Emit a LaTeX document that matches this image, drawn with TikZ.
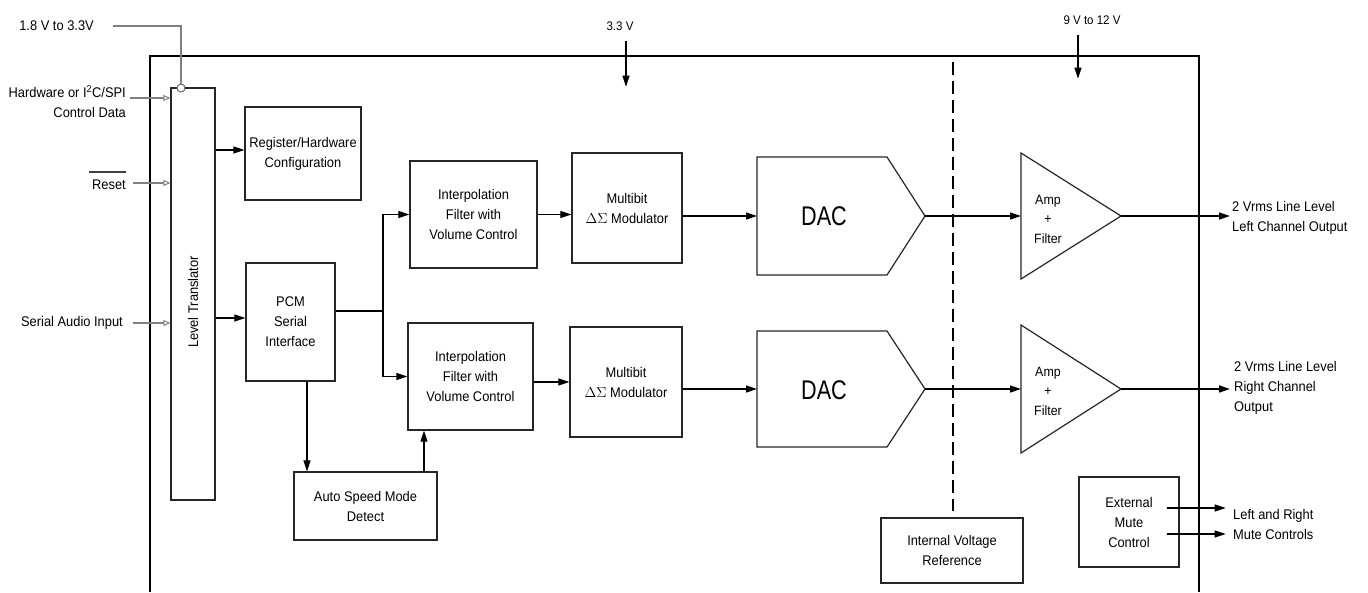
\documentclass[tikz,border=0pt]{standalone}
\usepackage{fontspec}
\setmainfont{Liberation Sans}[FakeStretch=0.92]
\newfontfamily\dacfont{Liberation Sans}[FakeStretch=0.8]
\usetikzlibrary{arrows.meta,calc}
\begin{document}
\begin{tikzpicture}[x=1pt,y=-1pt,
  font=\fontsize{14}{20}\selectfont,
  box/.style={draw=black!85, line width=1.3pt, inner sep=0pt, align=center},
  lbl/.style={inner sep=0pt, align=center},
  arr/.style={line width=1.2pt, -{Triangle[length=11pt,width=7pt]}},
  plainline/.style={line width=1.2pt},
  gline/.style={draw=gray, line width=1.7pt},
  garr/.style={draw=gray, line width=1.7pt, -{Triangle[open,length=7pt,width=6pt,line width=1pt]}},
  blockshape/.style={draw=black!85, line width=1.2pt},
  outerline/.style={line width=2.4pt},
  dashline/.style={line width=1.4pt, dash pattern=on 13pt off 6pt},
  daclabel/.style={inner sep=0pt, font=\dacfont\fontsize{27}{30}\selectfont}
]
\useasboundingbox (0,0) rectangle (1368,592);

% outer chip boundary
\draw[outerline] (150,592) -- (150,56) -- (1199,56) -- (1199,592);

% level translator
\node[box, minimum width=44pt, minimum height=412pt] (lt) at (193,294) {};
\node[lbl, rotate=90] (ltl) at (193,302) {Level Translator};
\node[circle, draw=gray!80!black, fill=white, line width=1pt, minimum size=8pt, inner sep=0pt] (vc) at (181,88) {};

% blocks
\node[box, minimum width=116pt, minimum height=93pt] (reg) at (303,153.5) {Register/Hardware\\Configuration};
\node[box, minimum width=89pt, minimum height=118pt] (pcm) at (290.5,322) {PCM\\Serial\\Interface};
\node[box, minimum width=127pt, minimum height=107pt] (if1) at (473.5,214.5) {Interpolation\\Filter with\\Volume Control};
\node[box, minimum width=125pt, minimum height=107pt] (if2) at (470.5,376.5) {Interpolation\\Filter with\\Volume Control};
\node[box, minimum width=110pt, minimum height=110pt] (mb1) at (627,208) {Multibit\\$\Delta\Sigma$ Modulator};
\node[box, minimum width=112pt, minimum height=110pt] (mb2) at (626,382) {Multibit\\$\Delta\Sigma$ Modulator};
\node[box, minimum width=143pt, minimum height=68pt] (asd) at (365.5,506) {Auto Speed Mode\\Detect};
\node[box, minimum width=142pt, minimum height=65pt] (ivr) at (952,550.5) {Internal Voltage\\Reference};
\node[box, minimum width=100pt, minimum height=90pt] (emc) at (1129,522) {External\\Mute\\Control};

% DACs
\draw[blockshape] (757,157) -- (887,157) -- (925,216) -- (887,275) -- (757,275) -- cycle;
\node[daclabel] (dac1) at (824,216) {DAC};
\coordinate (dac1in) at (757,216);
\coordinate (dac1out) at (925,216);
\draw[blockshape] (757,331) -- (887,331) -- (925,389) -- (887,447) -- (757,447) -- cycle;
\node[daclabel] (dac2) at (824,390) {DAC};
\coordinate (dac2in) at (757,389);
\coordinate (dac2out) at (925,389);

% amplifiers
\draw[blockshape] (1021,153) -- (1121,216) -- (1021,279) -- cycle;
\node[lbl, font=\fontsize{13.5}{19.5}\selectfont] (amp1) at (1048,219) {Amp\\+\\Filter};
\coordinate (amp1in) at (1021,216);
\coordinate (amp1out) at (1121,216);
\draw[blockshape] (1021,325) -- (1121,389) -- (1021,453) -- cycle;
\node[lbl, font=\fontsize{13.5}{19.5}\selectfont] (amp2) at (1048,391) {Amp\\+\\Filter};
\coordinate (amp2in) at (1021,389);
\coordinate (amp2out) at (1121,389);

% dashed separation
\coordinate (dtop) at (953,62);
\draw[dashline] (dtop) -- ([yshift=6pt]dtop |- ivr.north);

% left labels and inputs
\node[lbl, anchor=east, align=right] (hw) at (126,101.5) {Hardware or I\textsuperscript{2}C/SPI\\Control Data};
\node[lbl, anchor=east] (rst) at (126,185) {Reset};
\draw[line width=1.4pt, draw=black!75] ([xshift=-3pt,yshift=8pt]rst.north west) -- ([yshift=8pt]rst.north east);
\node[lbl, anchor=east] (sai) at (123,323) {Serial Audio Input};
\node[lbl, anchor=east] (v18) at (94,26) {1.8 V to 3.3V};

\draw[gline] ([xshift=19pt]v18.east) -| (vc.north);
\coordinate (hwin) at (130,98);
\draw[garr] (hwin) -- (hwin -| lt.west);
\draw[garr] ([xshift=7pt,yshift=2pt]rst.east) -- ([yshift=2pt]rst.east -| lt.west);
\draw[garr] ([xshift=10pt]sai.east) -- (sai.east -| lt.west);

% internal connections
\draw[arr] ([yshift=3.5pt]reg.west -| lt.east) -- ([yshift=3.5pt]reg.west);
\draw[arr] ([yshift=4pt]pcm.west -| lt.east) -- ([yshift=4pt]pcm.west);
\coordinate (sp) at (383,311);
\draw[plainline] (pcm.east |- sp) -- (sp);
\draw[arr] (sp) |- (if1.west);
\draw[arr] (sp) |- (if2.west);
\draw[arr] (if1.east) -- (if1.east -| mb1.west);
\draw[arr] (if2.east |- mb2.west) -- (mb2.west);
\draw[arr] (mb1.east |- dac1in) -- (dac1in);
\draw[arr] (mb2.east |- dac2in) -- (dac2in);
\draw[arr] (dac1out) -- (amp1in);
\draw[arr] (dac2out) -- (amp2in);
\draw[arr] ([xshift=16.5pt]pcm.south) -- ([xshift=16.5pt]pcm.south |- asd.north);
\draw[arr] ([xshift=58.5pt]asd.north) -- ([xshift=58.5pt]asd.north |- if2.south);

% outputs
\node[lbl, anchor=west, align=left] (o1l) at (1232,217.5) {2 Vrms Line Level\\Left Channel Output};
\node[lbl, anchor=west, align=left] (o2l) at (1234,388) {2 Vrms Line Level\\Right Channel\\Output};
\node[lbl, anchor=west, align=left] (mutel) at (1233,524.5) {Left and Right\\Mute Controls};
\draw[arr] (amp1out) -- ([xshift=-2pt]o1l.west |- amp1out);
\draw[arr, line width=1.6pt] (amp2out) -- ([xshift=-4pt]o2l.west |- amp2out);
\draw[arr] ([xshift=-13pt,yshift=14pt]emc.east) -- ++(59,0);
\draw[arr] ([xshift=-13pt,yshift=-12pt]emc.east) -- ++(59,0);

% supply labels
\node[lbl, font=\fontsize{12.5}{15}\selectfont] (v33) at (620,26) {3.3 V};
\draw[arr] ([xshift=6pt,yshift=-10pt]v33.south) -- ++(0,46);
\node[lbl, font=\fontsize{12.5}{15}\selectfont] (v9) at (1092,20) {9 V to 12 V};
\draw[arr] ([xshift=-14pt,yshift=-10pt]v9.south) -- ++(0,44);
\end{tikzpicture}
\end{document}
